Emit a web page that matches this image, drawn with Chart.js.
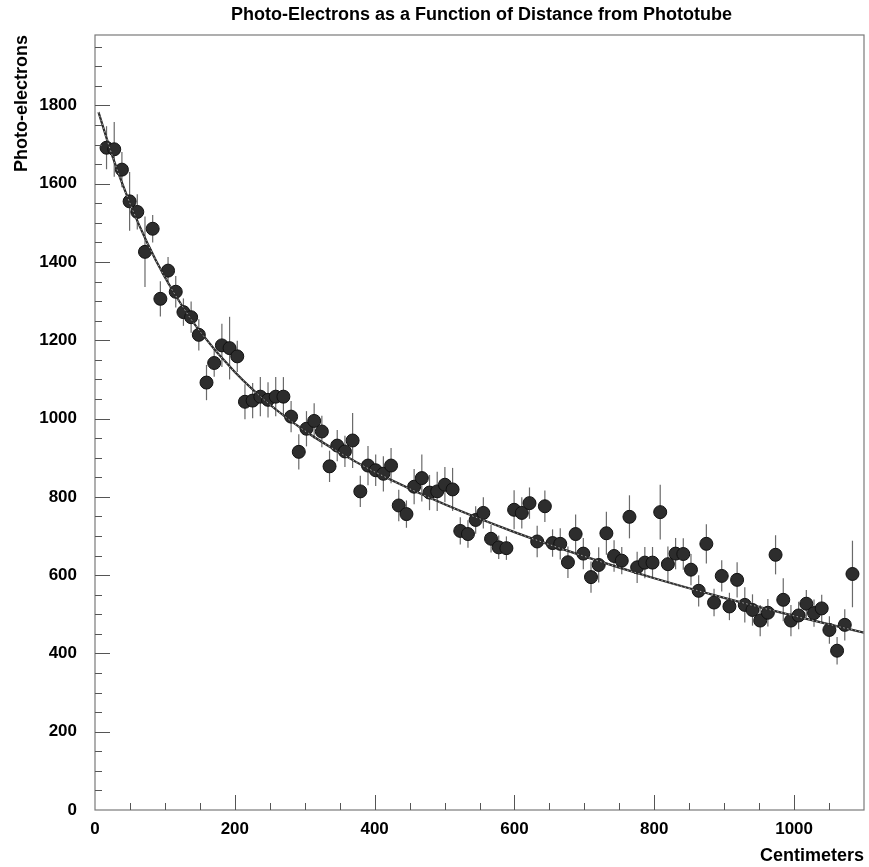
<!DOCTYPE html>
<html>
<head>
<meta charset="utf-8">
<script src="https://cdn.jsdelivr.net/npm/chart.js@4.4.1/dist/chart.umd.min.js"></script>
<style>
  html, body { margin: 0; padding: 0; background: #ffffff; }
  #wrap { width: 869px; height: 867px; position: relative; }
</style>
</head>
<body>
<div id="wrap"><canvas id="c" width="869" height="867"></canvas></div>
<script>
// ---- data ----
const chartTitle = "Photo-Electrons as a Function of Distance from Phototube";
const xAxisTitle = "Centimeters";
const yAxisTitle = "Photo-electrons";

const distanceCm = [
  16.5, 27.5, 38.5, 49.5, 60.5, 71.5, 82.5, 93.5, 104.5, 115.5,
  126.5, 137.5, 148.5, 159.5, 170.5, 181.5, 192.5, 203.5, 214.5, 225.5,
  236.5, 247.5, 258.5, 269.5, 280.5, 291.5, 302.5, 313.5, 324.5, 335.5,
  346.5, 357.5, 368.5, 379.5, 390.5, 401.5, 412.5, 423.5, 434.5, 445.5,
  456.5, 467.5, 478.5, 489.5, 500.5, 511.5, 522.5, 533.5, 544.5, 555.5,
  566.5, 577.5, 588.5, 599.5, 610.5, 621.5, 632.5, 643.5, 654.5, 665.5,
  676.5, 687.5, 698.5, 709.5, 720.5, 731.5, 742.5, 753.5, 764.5, 775.5,
  786.5, 797.5, 808.5, 819.5, 830.5, 841.5, 852.5, 863.5, 874.5, 885.5,
  896.5, 907.5, 918.5, 929.5, 940.5, 951.5, 962.5, 973.5, 984.5, 995.5,
  1006.5, 1017.5, 1028.5, 1039.5, 1050.5, 1061.5, 1072.5, 1083.5
];

const photoElectrons = [
  1692, 1688, 1636, 1555, 1528, 1426, 1485, 1306, 1378, 1324,
  1272, 1259, 1214, 1092, 1142, 1187, 1180, 1159, 1043, 1046,
  1056, 1048, 1056, 1056, 1005, 915, 974, 994, 967, 878,
  931, 916, 944, 814, 880, 868, 859, 880, 778, 756,
  826, 848, 811, 814, 831, 819, 713, 705, 741, 759,
  693, 671, 669, 767, 759, 784, 686, 776, 682, 680,
  633, 705, 655, 595, 626, 707, 649, 637, 749, 620,
  632, 632, 761, 628, 655, 654, 614, 560, 680, 530,
  598, 520, 588, 524, 511, 484, 504, 652, 537, 484,
  497, 527, 503, 515, 460, 407, 473, 603
];

const errorBars = [
  55, 70, 45, 75, 45, 90, 35, 45, 35, 40,
  35, 40, 40, 45, 35, 55, 80, 40, 45, 45,
  50, 45, 50, 50, 40, 45, 45, 45, 40, 40,
  40, 40, 70, 40, 50, 40, 45, 45, 40, 35,
  45, 60, 45, 50, 45, 55, 35, 35, 35, 40,
  35, 30, 30, 50, 40, 40, 40, 40, 35, 40,
  40, 50, 40, 40, 45, 55, 40, 35, 55, 40,
  40, 40, 70, 45, 40, 40, 40, 40, 50, 35,
  40, 35, 45, 45, 40, 40, 35, 50, 55, 40,
  35, 35, 35, 35, 35, 35, 40, 85
];

// fitted curve
const fitX = [5, 25, 50, 75, 100, 125, 150, 200, 250, 300, 350, 400, 500, 600, 700, 800, 900, 1000, 1100];
const fitY = [1783, 1670, 1550, 1448, 1361, 1287, 1223, 1119, 1036, 969, 913, 864, 781, 710, 648, 592, 542, 496, 453];

const xTickLabels = [0, 200, 400, 600, 800, 1000];
const yTickLabels = [0, 200, 400, 600, 800, 1000, 1200, 1400, 1600, 1800];

// ---- build datasets ----
const pointData = distanceCm.map((x, i) => ({ x: x, y: photoElectrons[i], e: errorBars[i] }));
const fitData = fitX.map((x, i) => ({ x: x, y: fitY[i] }));

const framePlugin = {
  id: 'frameAndTicks',
  beforeDatasetsDraw(chart) {
    const { ctx, scales } = chart;
    const xs = scales.x, ys = scales.y;
    ctx.save();
    ctx.strokeStyle = '#6a6a6a';
    ctx.lineWidth = 1.2;
    pointData.forEach(p => {
      const px = xs.getPixelForValue(p.x);
      ctx.beginPath();
      ctx.moveTo(px, ys.getPixelForValue(p.y + p.e));
      ctx.lineTo(px, ys.getPixelForValue(p.y - p.e));
      ctx.stroke();
    });
    ctx.restore();
  },
  afterDraw(chart) {
    const { ctx, chartArea: a, scales } = chart;
    const xs = scales.x, ys = scales.y;
    ctx.save();
    ctx.strokeStyle = '#7a7a7a';
    ctx.lineWidth = 1.2;
    ctx.strokeRect(a.left, a.top, a.right - a.left, a.bottom - a.top);
    ctx.strokeStyle = '#555';
    ctx.lineWidth = 1;
    for (let v = 50; v < xs.max; v += 50) {
      const px = Math.round(xs.getPixelForValue(v)) + 0.5;
      const len = v % 200 === 0 ? 15 : 7;
      ctx.beginPath(); ctx.moveTo(px, a.bottom); ctx.lineTo(px, a.bottom - len); ctx.stroke();
    }
    for (let v = 50; v < ys.max; v += 50) {
      const py = Math.round(ys.getPixelForValue(v)) + 0.5;
      const len = v % 200 === 0 ? 15 : 7;
      ctx.beginPath(); ctx.moveTo(a.left, py); ctx.lineTo(a.left + len, py); ctx.stroke();
    }
    ctx.fillStyle = '#000';
    ctx.font = 'bold 18px "Liberation Sans", Arial, sans-serif';
    ctx.textAlign = 'center';
    ctx.textBaseline = 'middle';
    ctx.fillText(chartTitle, (a.left + a.right) / 2 + 2, 15);
    ctx.restore();
  }
};

const tickFont = { family: '"Liberation Sans", Arial, sans-serif', size: 17, weight: 'bold' };
const titleFont = { family: '"Liberation Sans", Arial, sans-serif', size: 18, weight: 'bold' };

new Chart(document.getElementById('c'), {
  type: 'scatter',
  data: {
    datasets: [
      {
        type: 'line',
        label: 'fit',
        data: fitData,
        borderColor: '#2a2a2a',
        borderWidth: 2.2,
        pointRadius: 0,
        fill: false,
        cubicInterpolationMode: 'monotone',
        order: 1
      },
      {
        type: 'line',
        label: 'fit-dots',
        data: fitData,
        borderColor: 'rgba(255,255,255,0.75)',
        borderWidth: 0.8,
        borderDash: [1.5, 2.5],
        pointRadius: 0,
        fill: false,
        cubicInterpolationMode: 'monotone',
        order: 0
      },
      {
        type: 'scatter',
        label: 'data',
        data: pointData,
        pointRadius: 6.5,
        pointBackgroundColor: '#2d2d2d',
        pointBorderColor: '#111',
        pointBorderWidth: 1,
        order: 2
      }
    ]
  },
  options: {
    responsive: false,
    animation: false,
    devicePixelRatio: 1,
    layout: { autoPadding: false, padding: { top: 35, right: 5, left: 0, bottom: 0 } },
    plugins: { legend: { display: false }, tooltip: { enabled: false }, title: { display: false } },
    scales: {
      x: {
        type: 'linear',
        min: 0,
        max: 1100,
        grid: { display: false },
        border: { display: false },
        afterBuildTicks: s => { s.ticks = xTickLabels.map(v => ({ value: v })); },
        afterFit: s => { s.height = 57; s.paddingRight = 0; s.paddingLeft = 0; },
        ticks: { color: '#000', font: tickFont, padding: 1, autoSkip: false, maxRotation: 0, callback: v => String(v) },
        title: { display: true, text: xAxisTitle, align: 'end', color: '#000', font: titleFont, padding: { top: 0, bottom: 0 } }
      },
      y: {
        type: 'linear',
        min: 0,
        max: 1980,
        grid: { display: false },
        border: { display: false },
        afterBuildTicks: s => { s.ticks = yTickLabels.map(v => ({ value: v })); },
        afterFit: s => { s.width = 95; s.paddingTop = 0; s.paddingBottom = 0; },
        ticks: { color: '#000', font: tickFont, padding: 10, autoSkip: false, callback: v => String(v) },
        title: { display: true, text: yAxisTitle, align: 'end', color: '#000', font: titleFont, padding: { top: 11, bottom: 0 } }
      }
    }
  },
  plugins: [framePlugin]
});
</script>
</body>
</html>
